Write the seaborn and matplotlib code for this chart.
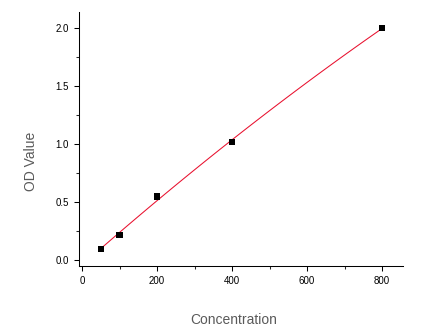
import matplotlib
matplotlib.use("Agg")
import matplotlib.pyplot as plt
from matplotlib.ticker import MultipleLocator
import seaborn as sns
import pandas as pd

concentration = [50, 100, 200, 400, 800]
od_value = [0.10, 0.22, 0.55, 1.02, 2.00]
x_ticks = [0, 200, 400, 600, 800]
y_ticks = [0.0, 0.5, 1.0, 1.5, 2.0]

sns.set_style("ticks")
plt.rcParams['font.family'] = ['Liberation Sans', 'DejaVu Sans']

df = pd.DataFrame({"Concentration": concentration, "OD Value": od_value})

fig = plt.figure(figsize=(4.45, 3.32), dpi=100)
ax = fig.add_axes([79/445, 1-266/332, (403-79)/445, (266-12)/332])

sns.regplot(data=df, x="Concentration", y="OD Value", order=2, ci=None, ax=ax,
            marker="s", color="black",
            scatter_kws={"s": 20, "color": "black", "edgecolors": "none", "alpha": 1, "zorder": 3},
            line_kws={"color": "#e8102e", "lw": 0.75, "zorder": 2})

ax.set_xlim(-8, 856)
ax.set_ylim(-0.049, 2.14)
ax.set_xticks(x_ticks)
ax.set_xticklabels([f"{v:d}" for v in x_ticks])
ax.set_yticks(y_ticks)
ax.set_yticklabels([f"{v:.1f}" for v in y_ticks])
ax.xaxis.set_minor_locator(MultipleLocator(100))
ax.yaxis.set_minor_locator(MultipleLocator(0.25))
ax.tick_params(which="major", direction="out", length=3.6, width=0.75, labelsize=7, pad=3.5, colors="black")
ax.tick_params(which="minor", direction="out", length=2.2, width=0.75)
for s in ["top", "right"]:
    ax.spines[s].set_visible(False)
for s in ["left", "bottom"]:
    ax.spines[s].set_linewidth(0.75)
    ax.spines[s].set_color("black")

ax.set_xlabel("")
ax.set_ylabel("")
fig.text(234/445, 1-324/332, "Concentration", ha="center", va="baseline", fontsize=10, color="#5a5a5a")
fig.text(31/445, 1-161/332, "OD Value", ha="center", va="center", rotation=90, fontsize=10, color="#5a5a5a")

fig.savefig("out.png", dpi=100)
